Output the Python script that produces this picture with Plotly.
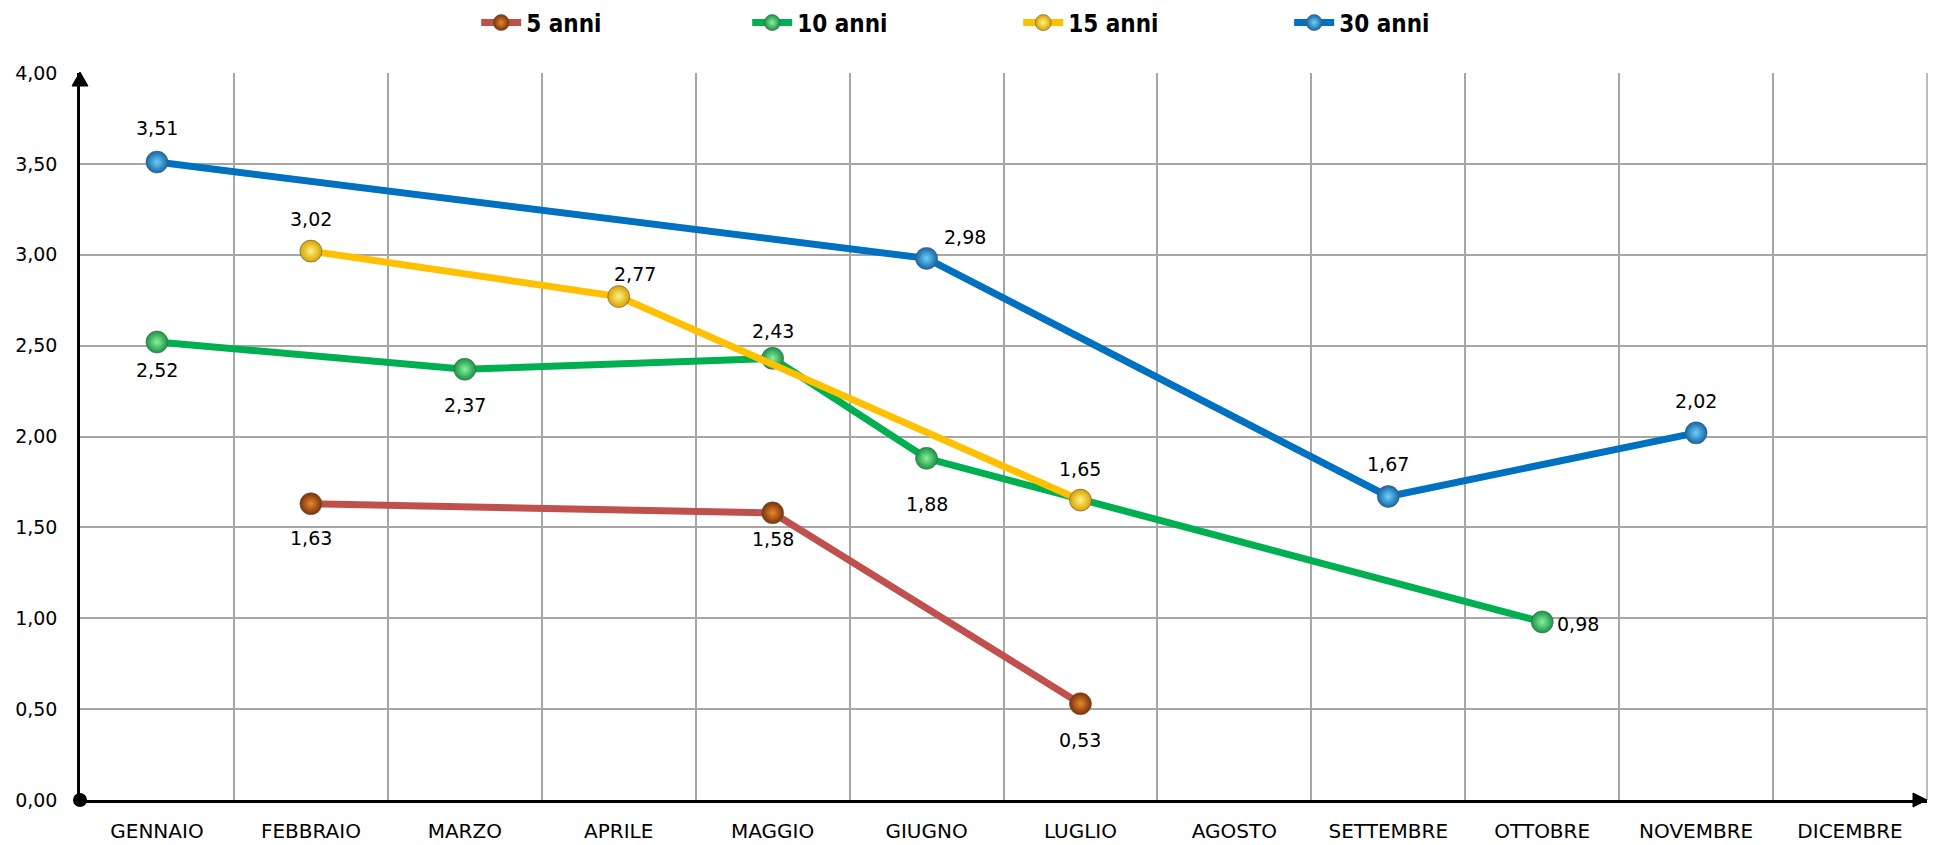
import plotly.graph_objects as go

months = ["GENNAIO", "FEBBRAIO", "MARZO", "APRILE", "MAGGIO", "GIUGNO",
          "LUGLIO", "AGOSTO", "SETTEMBRE", "OTTOBRE", "NOVEMBRE", "DICEMBRE"]
y_tickvals = [0, 0.5, 1.0, 1.5, 2.0, 2.5, 3.0, 3.5, 4.0]
y_ticktext = ["0,00", "0,50", "1,00", "1,50", "2,00", "2,50", "3,00", "3,50", "4,00"]

s5_months = ["FEBBRAIO", "MAGGIO", "LUGLIO"]
s5_values = [1.63, 1.58, 0.53]
s10_months = ["GENNAIO", "MARZO", "MAGGIO", "GIUGNO", "OTTOBRE"]
s10_values = [2.52, 2.37, 2.43, 1.88, 0.98]
s15_months = ["FEBBRAIO", "APRILE", "LUGLIO"]
s15_values = [3.02, 2.77, 1.65]
s30_months = ["GENNAIO", "GIUGNO", "SETTEMBRE", "NOVEMBRE"]
s30_values = [3.51, 2.98, 1.67, 2.02]

# label placement styles (xshift, yshift, xanchor)
s5_labels = [(0, -34, "center"), (0, -26, "center"), (0, -36, "center")]
s10_labels = [(0, -28, "center"), (0, -36, "center"), (0, 27, "center"), (0, -46, "center"), (13, -2, "left")]
s15_labels = [(0, 32, "center"), (16, 23, "center"), (0, 31, "center")]
s30_labels = [(0, 34, "center"), (38, 21, "center"), (0, 32, "center"), (0, 32, "center")]

series = [
    ("5 anni", s5_months, s5_values, s5_labels, "#C0504D", "#7A3208", "#E8872E"),
    ("10 anni", s10_months, s10_values, s10_labels, "#00B050", "#149443", "#8CF0A0"),
    ("15 anni", s15_months, s15_values, s15_labels, "#FFC000", "#D9A000", "#FFF480"),
    ("30 anni", s30_months, s30_values, s30_labels, "#0070C0", "#1565A8", "#6DD0F8"),
]

FONT = "DejaVu Sans"
LEGEND_FONT = "DejaVu Sans Condensed, DejaVu Sans"
fig = go.Figure()
annotations = []
for name, ms, vals, labs, lc, mc, gc in series:
    xs = [months.index(m) for m in ms]
    fig.add_trace(go.Scatter(
        x=xs, y=vals, name=name, mode="lines+markers",
        line=dict(color=lc, width=7),
        marker=dict(size=22, color=mc, gradient=dict(type="radial", color=gc),
                    line=dict(color="rgba(90,90,90,0.6)", width=1)),
        cliponaxis=False, hoverinfo="x+y",
    ))
    for x, v, (dx, dy, xa) in zip(xs, vals, labs):
        annotations.append(dict(
            x=x, y=v, xref="x", yref="y", text=f"{v:.2f}".replace(".", ","),
            showarrow=False, xshift=dx, yshift=dy, xanchor=xa, yanchor="middle",
            font=dict(family=FONT, size=19, color="#000000"),
        ))

# origin dot
fig.add_trace(go.Scatter(x=[-0.5], y=[0], mode="markers", showlegend=False,
                         marker=dict(size=14, color="black"), cliponaxis=False,
                         hoverinfo="skip"))

shapes = [
    # right border of plot area
    dict(type="line", xref="paper", yref="paper", x0=1, x1=1, y0=0, y1=1,
         line=dict(color="#A6A6A6", width=1.5)),
    # y-axis arrow
    dict(type="path", xref="paper", yref="paper", xsizemode="pixel", ysizemode="pixel",
         xanchor=0, yanchor=1, path="M -8,-13 L 8,-13 L 0,1 Z",
         fillcolor="black", line=dict(color="black", width=1)),
    # x-axis arrow
    dict(type="path", xref="paper", yref="paper", xsizemode="pixel", ysizemode="pixel",
         xanchor=1, yanchor=0, path="M -14,-7 L -14,7 L 0,0 Z",
         fillcolor="black", line=dict(color="black", width=1)),
]

fig.update_layout(
    width=1935, height=845,
    margin=dict(l=80, r=8, t=73, b=45, autoexpand=False),
    paper_bgcolor="white", plot_bgcolor="white",
    font=dict(family=FONT, size=19, color="black"),
    showlegend=True,
    legend=dict(orientation="h", x=0.2145, xanchor="left", y=1.0688, yanchor="middle",
                font=dict(family=LEGEND_FONT, size=24, color="black", weight="bold"),
                entrywidth=216, itemwidth=40, bgcolor="rgba(0,0,0,0)"),
    annotations=annotations,
    shapes=shapes,
    xaxis=dict(
        range=[-0.5, 11.5], tickmode="array", tickvals=list(range(12)), ticktext=months,
        showgrid=False, zeroline=False, showline=True, linecolor="black", linewidth=2.5,
        ticks="outside", ticklen=11, tickcolor="rgba(0,0,0,0)",
        tickfont=dict(family=FONT, size=20, color="black"),
        minor=dict(tickmode="linear", tick0=-0.5, dtick=1, showgrid=True,
                   gridcolor="#A6A6A6", gridwidth=1.5, ticks=""),
        fixedrange=True,
    ),
    yaxis=dict(
        range=[0, 4], tickmode="array", tickvals=y_tickvals, ticktext=y_ticktext,
        showgrid=True, gridcolor="#A6A6A6", gridwidth=1.5, zeroline=False,
        showline=True, linecolor="black", linewidth=2.5,
        ticks="outside", ticklen=16, tickcolor="rgba(0,0,0,0)",
        tickfont=dict(family=FONT, size=19, color="black"),
        fixedrange=True,
    ),
)

fig.write_html(
    "out.html",
    config={"displayModeBar": False},
    post_script="document.body.style.margin='0';document.body.style.overflow='hidden';",
)
